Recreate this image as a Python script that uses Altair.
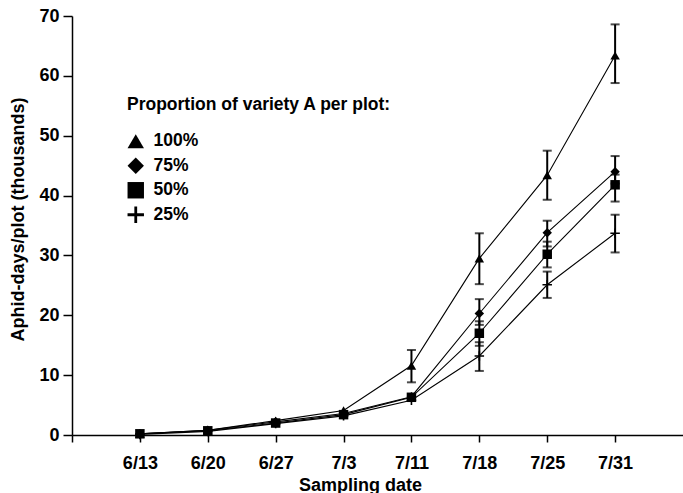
import altair as alt
import pandas as pd

dates = ["6/13", "6/20", "6/27", "7/3", "7/11", "7/18", "7/25", "7/31"]
series_names = ["100%", "75%", "50%", "25%"]

v100 = [0.2, 0.8, 2.4, 4.1, 11.6, 29.5, 43.4, 63.4]
v75 = [0.2, 0.8, 2.2, 3.6, 6.4, 20.3, 33.8, 44.0]
v50 = [0.2, 0.7, 2.0, 3.4, 6.3, 17.0, 30.2, 41.8]
v25 = [0.1, 0.6, 1.9, 3.2, 5.8, 13.2, 25.1, 33.7]

lo100 = [None, None, None, None, 8.8, 25.2, 39.3, 58.8]
hi100 = [None, None, None, None, 14.2, 33.7, 47.5, 68.6]
lo75 = [None, None, None, None, None, 18.4, 31.5, 42.0]
hi75 = [None, None, None, None, None, 22.7, 35.8, 46.6]
lo50 = [None, None, None, None, None, 14.9, 28.0, 39.0]
hi50 = [None, None, None, None, None, 19.0, 32.3, 43.5]
lo25 = [None, None, None, None, None, 10.7, 22.9, 30.5]
hi25 = [None, None, None, None, None, 15.5, 27.3, 36.8]

y_ticks = [0, 10, 20, 30, 40, 50, 60, 70]

values = [v100, v75, v50, v25]
lows = [lo100, lo75, lo50, lo25]
highs = [hi100, hi75, hi50, hi25]

rows = []
for s, vals, los, his in zip(series_names, values, lows, highs):
    for i, (d, v, lo, hi) in enumerate(zip(dates, vals, los, his)):
        rows.append({"series": s, "idx": i + 1, "date": d, "value": v, "lo": lo, "hi": hi})
df = pd.DataFrame(rows)

FONT = "Liberation Sans"
plus_path = ("M-1,-0.17L-0.17,-0.17L-0.17,-1L0.17,-1L0.17,-0.17L1,-0.17L1,0.17"
             "L0.17,0.17L0.17,1L-0.17,1L-0.17,0.17L-1,0.17Z")
shapes = ["triangle-up", "diamond", "square", plus_path]

label_expr = "[''," + ",".join("'%s'" % d for d in dates) + "][datum.value]"

x_enc = alt.X(
    "idx:Q",
    scale=alt.Scale(domain=[0, 9], nice=False, zero=False),
    axis=alt.Axis(
        values=list(range(0, 9)),
        labelExpr=label_expr,
        title="Sampling date",
        titleX=288,
        titleY=41,
        titleAlign="center",
        titleBaseline="top",
        tickSize=7,
        labelPadding=12,
        labelBaseline="top",
    ),
)
y_enc = alt.Y(
    "value:Q",
    scale=alt.Scale(domain=[0, 70], nice=False),
    axis=alt.Axis(
        values=y_ticks,
        title="Aphid-days/plot (thousands)",
        titleX=-54,
        titleY=203,
        titleAlign="center",
        titleBaseline="middle",
        tickSize=9,
        labelPadding=4,
    ),
)

base = alt.Chart(df)

lines = base.mark_line(color="black", strokeWidth=1.1).encode(
    x=x_enc, y=y_enc, detail="series:N", order="idx:Q"
)

bars_df = base.transform_filter("isValid(datum.lo)")
rules = bars_df.mark_rule(color="black", strokeWidth=2).encode(
    x="idx:Q", y="lo:Q", y2="hi:Q"
)
caps_lo = bars_df.mark_tick(color="black", orient="horizontal", size=9, thickness=2).encode(
    x="idx:Q", y="lo:Q"
)
caps_hi = bars_df.mark_tick(color="black", orient="horizontal", size=9, thickness=2).encode(
    x="idx:Q", y="hi:Q"
)

points = base.mark_point(filled=True, color="black", size=90, opacity=1).encode(
    x="idx:Q",
    y="value:Q",
    shape=alt.Shape(
        "series:N",
        scale=alt.Scale(domain=series_names, range=shapes),
        legend=alt.Legend(
            orient="none",
            legendX=55,
            legendY=80,
            title="Proportion of variety A per plot:",
            titleFont=FONT,
            titleFontSize=17.5,
            titleFontWeight="bold",
            titleColor="black",
            titlePadding=19,
            titleLimit=500,
            labelFont=FONT,
            labelFontSize=17.5,
            labelFontWeight="bold",
            labelColor="black",
            labelOffset=9,
            labelLimit=200,
            symbolSize=270,
            symbolFillColor="black",
            symbolStrokeColor="black",
            symbolOpacity=1,
            symbolStrokeWidth=0,
            rowPadding=5.5,
            padding=0,
        ),
    ),
)

chart = (
    alt.layer(lines, rules, caps_lo, caps_hi, points)
    .properties(
        width=611,
        height=419,
        autosize=alt.AutoSizeParams(type="none"),
        padding={"left": 72, "top": 16, "right": 0, "bottom": 58},
        background="white",
    )
    .configure_view(stroke=None)
    .configure_axis(
        grid=False,
        domainColor="black",
        domainWidth=1.5,
        tickColor="black",
        tickWidth=1.5,
        labelColor="black",
        labelFont=FONT,
        labelFontSize=18,
        labelFontWeight="bold",
        titleColor="black",
        titleFont=FONT,
        titleFontSize=18,
        titleFontWeight="bold",
    )
)

chart.save("out.html", embed_options={"renderer": "svg", "actions": False})
